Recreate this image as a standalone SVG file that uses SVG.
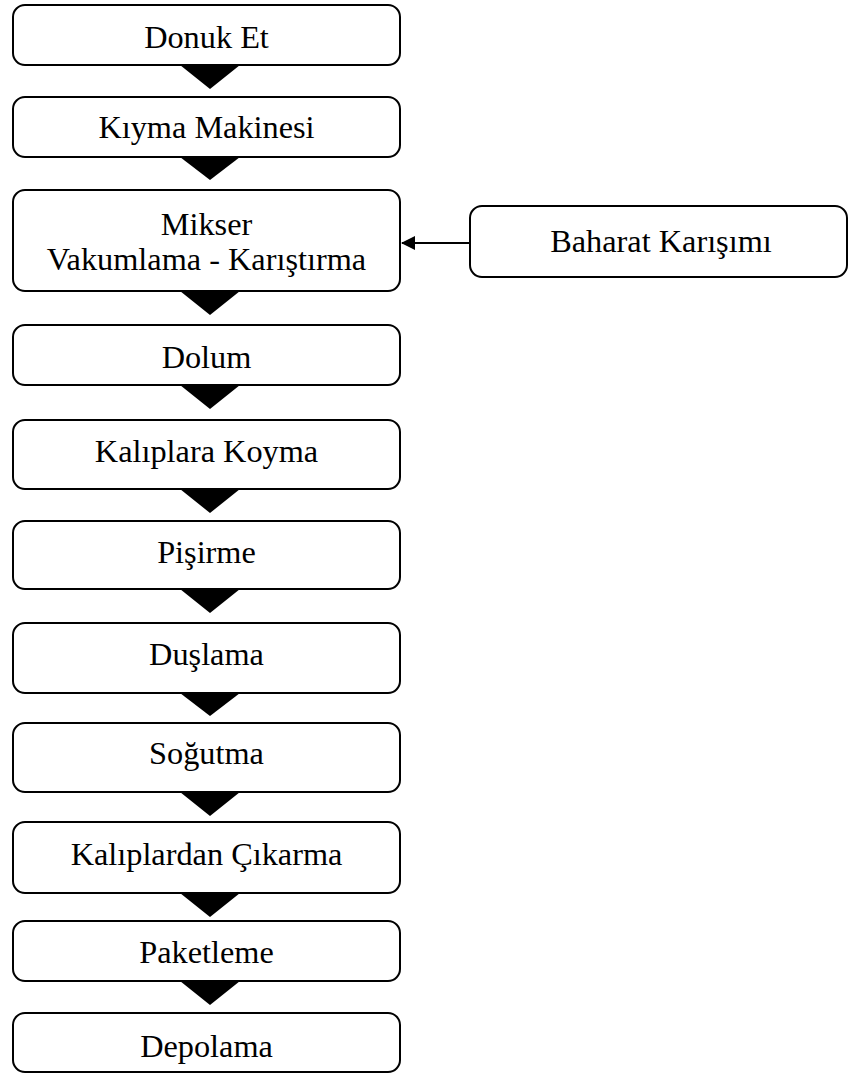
<svg xmlns="http://www.w3.org/2000/svg" width="849" height="1073" viewBox="0 0 849 1073">
<defs>
<style>
.box{fill:#fff;stroke:#000;stroke-width:2}
.t{font-family:"Liberation Serif","Times New Roman",serif;font-size:32.3px;fill:#000;text-anchor:middle}
.tri{fill:#000;stroke:none}
.ln{stroke:#000;stroke-width:2;fill:none}
</style>
<marker id="ah" markerWidth="14" markerHeight="14" refX="13" refY="7" orient="auto" markerUnits="userSpaceOnUse">
<path d="M0,0 L14,7 L0,14 Z" fill="#000"/>
</marker>
</defs>
<rect width="849" height="1073" fill="#fff"/>
<g id="n1"><rect class="box" x="13" y="5" width="387" height="60" rx="12"/><text class="t" x="206.5" y="48">Donuk Et</text></g>
<g id="n2"><rect class="box" x="13" y="97" width="387" height="60" rx="12"/><text class="t" x="206.5" y="138">Kıyma Makinesi</text></g>
<g id="n3"><rect class="box" x="13" y="190" width="387" height="101" rx="12"/><text class="t" x="206.5" y="235">Mikser</text><text class="t" x="206.5" y="270">Vakumlama - Karıştırma</text></g>
<g id="n4"><rect class="box" x="13" y="325" width="387" height="60" rx="12"/><text class="t" x="206.5" y="368">Dolum</text></g>
<g id="n5"><rect class="box" x="13" y="420" width="387" height="69" rx="12"/><text class="t" x="206.5" y="462">Kalıplara Koyma</text></g>
<g id="n6"><rect class="box" x="13" y="521" width="387" height="68" rx="12"/><text class="t" x="206.5" y="563">Pişirme</text></g>
<g id="n7"><rect class="box" x="13" y="623" width="387" height="70" rx="12"/><text class="t" x="206.5" y="665">Duşlama</text></g>
<g id="n8"><rect class="box" x="13" y="723" width="387" height="69" rx="12"/><text class="t" x="206.5" y="764">Soğutma</text></g>
<g id="n9"><rect class="box" x="13" y="822" width="387" height="71" rx="12"/><text class="t" x="206.5" y="865">Kalıplardan Çıkarma</text></g>
<g id="n10"><rect class="box" x="13" y="921" width="387" height="60" rx="12"/><text class="t" x="206.5" y="963">Paketleme</text></g>
<g id="n11"><rect class="box" x="13" y="1013" width="387" height="59" rx="12"/><text class="t" x="206.5" y="1057">Depolama</text></g>
<g id="n12"><rect class="box" x="470" y="206" width="377" height="71" rx="12"/><text class="t" x="661" y="252">Baharat Karışımı</text></g>
<g id="connectors">
<polygon class="tri" points="180,65 240,65 210,89"/>
<polygon class="tri" points="180,157 240,157 210,180"/>
<polygon class="tri" points="180,291 240,291 210,315"/>
<polygon class="tri" points="180,385 240,385 210,409"/>
<polygon class="tri" points="180,489 240,489 210,513"/>
<polygon class="tri" points="180,589 240,589 210,613"/>
<polygon class="tri" points="180,693 240,693 210,716"/>
<polygon class="tri" points="180,792 240,792 210,816"/>
<polygon class="tri" points="180,893 240,893 210,917"/>
<polygon class="tri" points="180,981 240,981 210,1005"/>
<line class="ln" x1="470" y1="243" x2="402" y2="243" marker-end="url(#ah)"/>
</g>
</svg>
